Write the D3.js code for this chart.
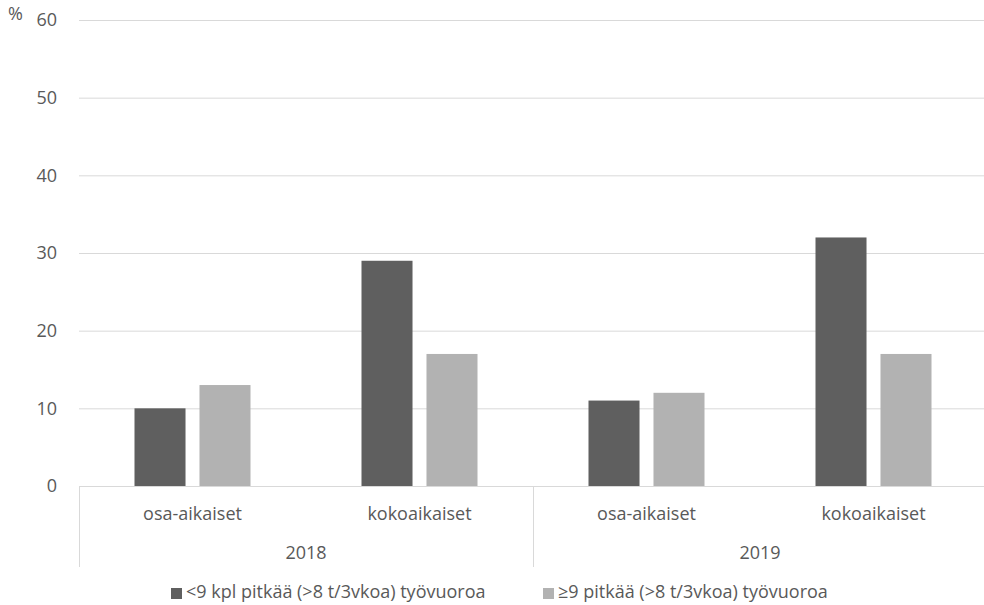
<!DOCTYPE html>
<html>
<head>
<meta charset="utf-8">
<script src="https://cdn.jsdelivr.net/npm/d3@7"></script>
<style>
  html, body { margin: 0; padding: 0; background: #fff; }
  svg { display: block; }
  text { font-family: "Open Sans", sans-serif; fill: #595959; font-size: 18px; }
</style>
</head>
<body>
<svg id="chart" width="984" height="605"></svg>
<script>
// Data
const years = ["2018", "2019"];
const categories = ["osa-aikaiset", "kokoaikaiset"];
const seriesNames = ["<9 kpl pitkää (>8 t/3vkoa) työvuoroa", "≥9 pitkää (>8 t/3vkoa) työvuoroa"];
const seriesColors = ["#5f5f5f", "#b2b2b2"];
const shortShifts = [10, 29, 11, 32];  // 2018 osa, 2018 koko, 2019 osa, 2019 koko
const longShifts  = [13, 17, 12, 17];
const yTicks = [0, 10, 20, 30, 40, 50, 60];

const svg = d3.select("#chart");
const plotLeft = 79, plotRight = 987, plotTop = 20, plotBottom = 486;
const font = "'Open Sans', sans-serif";

const y = d3.scaleLinear().domain([0, 60]).range([plotBottom, plotTop]);
const xYear = d3.scaleBand().domain(years).range([plotLeft, plotRight]);
const xCat = d3.scaleBand().domain(categories).range([0, xYear.bandwidth()]);
const xSeries = d3.scaleBand().domain([0, 1]).range([0, xCat.bandwidth()])
  .paddingInner(0.215).paddingOuter(0.854);

// Gridlines and value labels
const yAxis = d3.axisLeft(y).tickValues(yTicks).tickSize(-(plotRight - plotLeft)).tickPadding(22);
const gy = svg.append("g").attr("transform", `translate(${plotLeft},0)`).call(yAxis);
gy.select(".domain").remove();
gy.selectAll(".tick line").attr("stroke", "#d9d9d9").attr("stroke-width", 1);
gy.selectAll(".tick text")
  .style("font-size", "18px").style("fill", "#595959").style("font-family", font);

// Unit label
svg.append("text").attr("x", 8).attr("y", 20).text("%");

// Bars
const rows = [];
years.forEach((yr, i) => categories.forEach((c, j) => {
  const k = i * categories.length + j;
  [shortShifts[k], longShifts[k]].forEach((v, s) => rows.push({ yr, c, s, v }));
}));

svg.append("g").selectAll("rect").data(rows).join("rect")
  .attr("x", d => xYear(d.yr) + xCat(d.c) + xSeries(d.s))
  .attr("width", xSeries.bandwidth())
  .attr("y", d => y(d.v))
  .attr("height", d => y(0) - y(d.v))
  .attr("fill", d => seriesColors[d.s]);

// Category axis: separators and two-level labels
const sepBottom = 567;
const axisG = svg.append("g");
years.forEach(yr => {
  axisG.append("line")
    .attr("x1", xYear(yr) + 0.5).attr("x2", xYear(yr) + 0.5)
    .attr("y1", plotBottom).attr("y2", sepBottom)
    .attr("stroke", "#d9d9d9");
  categories.forEach(c => {
    axisG.append("text")
      .attr("x", xYear(yr) + xCat(c) + xCat.bandwidth() / 2)
      .attr("y", 520)
      .attr("text-anchor", "middle")
      .text(c);
  });
  axisG.append("text")
    .attr("x", xYear(yr) + xYear.bandwidth() / 2)
    .attr("y", 559)
    .attr("text-anchor", "middle")
    .text(yr);
});

// Legend
const legendX = [171, 543];
const lg = svg.append("g");
seriesNames.forEach((name, i) => {
  lg.append("rect").attr("x", legendX[i]).attr("y", 588).attr("width", 11).attr("height", 11)
    .attr("fill", seriesColors[i]);
  lg.append("text").attr("x", legendX[i] + 15).attr("y", 598).text(name);
});
</script>
</body>
</html>
